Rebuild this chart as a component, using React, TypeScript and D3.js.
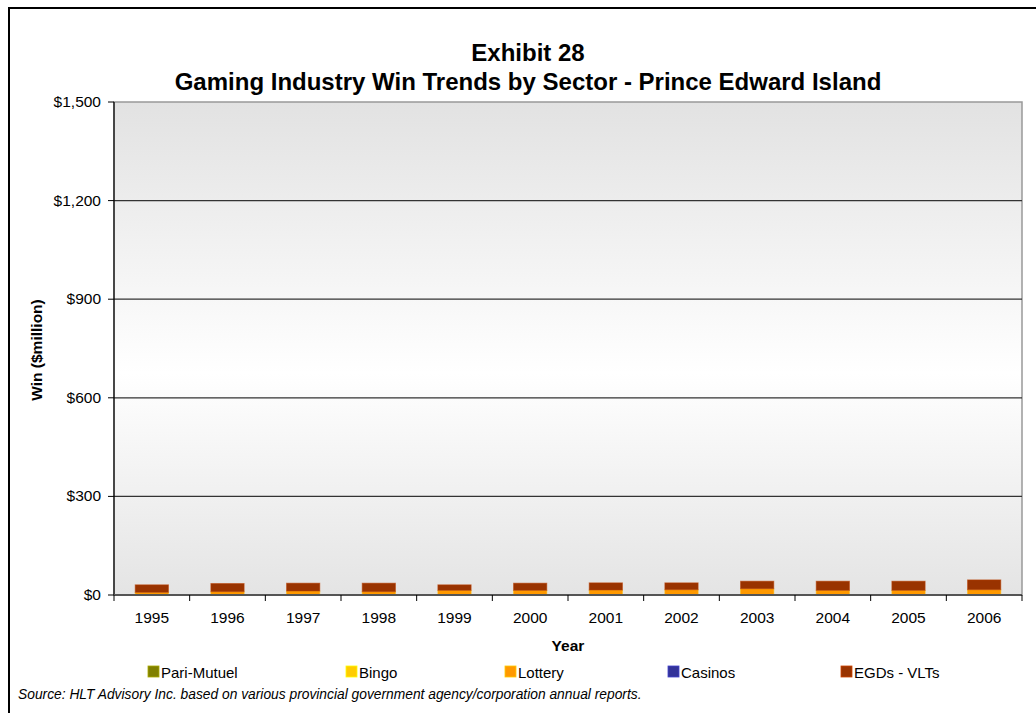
import React from "react";
import * as d3 from "d3";

const years = ["1995","1996","1997","1998","1999","2000","2001","2002","2003","2004","2005","2006"];
const pariMutuel = [0,0,0,0,0,0,0,0,0,0,0,0];
const bingo = [0,0,0,0,0,0,0,0,0,0,0,0];
const lottery = [8,10,12,10,14,14,15,16,19,14,14,16];
const casinos = [0,0,0,0,0,0,0,0,0,0,0,0];
const egds = [23,25,24,26,17,22,22,21,23,28,28,30];
const seriesNames = ["Pari-Mutuel","Bingo","Lottery","Casinos","EGDs - VLTs"];
const seriesColors = ["#808000","#FFCC00","#FF9900","#333399","#993300"];
const yTicks = [0,300,600,900,1200,1500];

const W = 1036, H = 713;
const L = 114, R = 1022, T = 102, B = 595;
const FONT = "'Liberation Sans', Arial, sans-serif";

export default function App() {
  const x = d3.scaleBand<string>().domain(years).range([L, R]).paddingInner(0.56).paddingOuter(0.28);
  const y = d3.scaleLinear().domain([0, 1500]).range([B, T]);
  const table = years.map((yr, i) => ({
    year: yr,
    "Pari-Mutuel": pariMutuel[i],
    Bingo: bingo[i],
    Lottery: lottery[i],
    Casinos: casinos[i],
    "EGDs - VLTs": egds[i],
  }));
  const stacked = d3.stack<any>().keys(seriesNames)(table);
  const step = (R - L) / years.length;
  const legendX = [148, 346, 505, 668, 841];

  return (
    <svg width={W} height={H} style={{ position: "absolute", left: 0, top: 0 }} fontFamily={FONT}>
      <defs>
        <linearGradient id="bg" x1="0" y1="0" x2="0" y2="1">
          <stop offset="0%" stopColor="#e2e2e2" />
          <stop offset="55%" stopColor="#ffffff" />
          <stop offset="100%" stopColor="#e4e4e4" />
        </linearGradient>
      </defs>
      <rect x={0} y={0} width={W} height={H} fill="#fff" />
      <rect x={9} y={8} width={W + 20} height={H + 20} fill="none" stroke="#000" strokeWidth={2} />
      <text x={528} y={61} textAnchor="middle" fontSize={24} fontWeight="bold">Exhibit 28</text>
      <text x={528} y={90} textAnchor="middle" fontSize={24} fontWeight="bold">Gaming Industry Win Trends by Sector - Prince Edward Island</text>

      <rect x={L} y={T} width={R - L} height={B - T} fill="url(#bg)" stroke="#999" strokeWidth={1.5} />
      {yTicks.filter(t => t > 0 && t < 1500).map(t => (
        <line key={t} x1={L} x2={R} y1={y(t)} y2={y(t)} stroke="#333" strokeWidth={1.2} />
      ))}
      {yTicks.map(t => (
        <g key={"yt" + t}>
          <line x1={L - 6} x2={L} y1={y(t)} y2={y(t)} stroke="#000" />
          <text x={L - 13} y={y(t) + 5} textAnchor="end" fontSize={15.5}>{"$" + d3.format(",")(t)}</text>
        </g>
      ))}
      <line x1={L} x2={L} y1={T} y2={B} stroke="#000" strokeWidth={1.2} />

      {stacked.map((s, si) => (
        <g key={s.key} fill={seriesColors[si]}>
          {s.map((d, i) => {
            const h = y(d[0]) - y(d[1]);
            if (h <= 0) return null;
            return <rect key={i} x={x(years[i])} y={y(d[1])} width={x.bandwidth()} height={h}
              stroke={d3.color(seriesColors[si])!.brighter(0.6).toString()} strokeOpacity={0.5} strokeWidth={1} />;
          })}
        </g>
      ))}

      <line x1={L} x2={R} y1={B} y2={B} stroke="#555" strokeWidth={2} />
      {d3.range(years.length + 1).map(i => (
        <line key={"xt" + i} x1={L + i * step} x2={L + i * step} y1={B} y2={B + 6} stroke="#000" />
      ))}
      {years.map(yr => (
        <text key={yr} x={x(yr)! + x.bandwidth() / 2} y={623} textAnchor="middle" fontSize={15.5}>{yr}</text>
      ))}
      <text x={568} y={651} textAnchor="middle" fontSize={15.5} fontWeight="bold">Year</text>
      <text transform={`translate(42,350) rotate(-90)`} textAnchor="middle" fontSize={15.5} fontWeight="bold">Win ($million)</text>

      {seriesNames.map((n, i) => (
        <g key={n}>
          <rect x={legendX[i]} y={666} width={11} height={11} fill={seriesColors[i]} stroke={d3.color(seriesColors[i])!.brighter(0.8).toString()} strokeWidth={0.8} />
          <text x={legendX[i] + 13} y={678} fontSize={15}>{n}</text>
        </g>
      ))}
      <text x={18} y={699} fontSize={13.8} fontStyle="italic">Source: HLT Advisory Inc. based on various provincial government agency/corporation annual reports.</text>
    </svg>
  );
}
